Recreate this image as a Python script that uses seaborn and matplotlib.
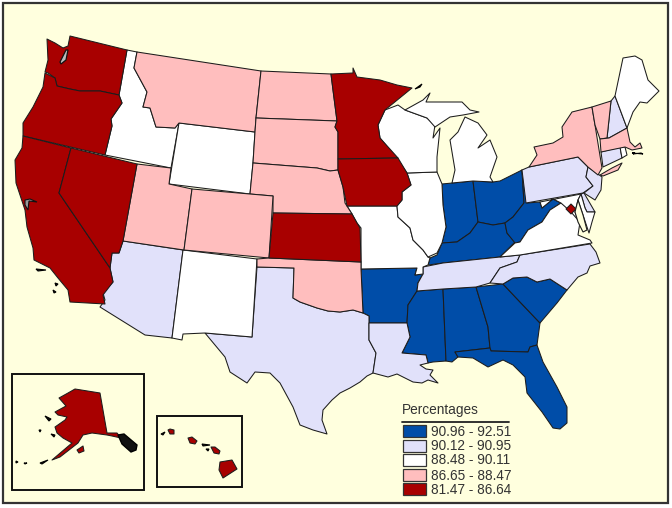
import matplotlib
matplotlib.use("Agg")
import matplotlib.pyplot as plt
from matplotlib.patches import Polygon, Rectangle
import seaborn as sns

sns.set_theme(style="white")
plt.rcParams['font.family'] = ['Liberation Sans', 'DejaVu Sans']

LEGEND_TITLE = "Percentages"
CLASS_LABELS = ["90.96 - 92.51", "90.12 - 90.95", "88.48 - 90.11", "86.65 - 88.47", "81.47 - 86.64"]
CLASS_COLORS = sns.color_palette(["#004DA8", "#E1E1FA", "#FFFFFF", "#FFBEBE", "#A80000"])
BG = "#FFFFDE"
EDGE = "#1c1c1c"

# state outlines (x, y in picture pixels)
WA = [(47,39),(55,43),(63,48),(68,46),(70,36),(127,50),(119,95),(100,91),(80,91),(70,89),(57,86),(55,78),(48,73),(45,72),(48,60)]
OR = [(45,73),(55,78),(57,86),(70,89),(80,91),(100,91),(119,95),(122,103),(111,119),(112,126),(105,155),(23,136),(23,123),(33,107),(43,87)]
CA = [(23,136),(71,148),(59,193),(110,268),(113,282),(103,295),(105,304),(70,302),(68,290),(58,278),(50,268),(34,260),(33,248),(27,227),(25,210),(16,183),(15,160),(22,148)]
NV = [(71,148),(137,164),(123,241),(119,253),(112,253),(110,268),(59,193)]
ID = [(127,50),(137,52),(134,68),(147,92),(143,107),(150,108),(156,127),(175,128),(179,123),(171,168),(105,155),(112,126),(111,119),(122,103),(119,95)]
MT = [(137,52),(261,71),(256,118),(255,132),(179,123),(175,128),(156,127),(150,108),(143,107),(147,92),(134,68)]
WY = [(179,123),(255,132),(253,163),(250,194),(169,184)]
ND = [(261,71),(331,74),(333,90),(337,121),(256,118)]
SD = [(256,118),(337,121),(335,127),(338,132),(338,170),(330,171),(317,168),(253,163),(255,132)]
NE = [(253,163),(317,168),(330,171),(338,170),(343,187),(345,203),(352,214),(273,213),(273,196),(250,194)]
KS = [(273,213),(352,214),(357,223),(360,228),(361,262),(269,258)]
CO = [(192,189),(273,196),(269,258),(184,250)]
UT = [(137,164),(171,168),(169,184),(192,189),(184,250),(123,241)]
AZ = [(123,241),(183,250),(172,338),(145,335),(100,307),(105,300),(103,293),(113,282),(110,268),(112,253),(119,253)]
NM = [(183,250),(257,259),(252,337),(205,333),(183,334),(182,340),(172,338)]
TX = [(257,267),(294,268),(293,298),(300,302),(317,308),(328,311),(340,312),(353,310),(363,313),(369,316),(369,340),(376,353),(373,373),(367,376),(360,382),(350,388),(340,393),(332,400),(323,410),(322,420),(327,434),(313,430),(300,425),(293,407),(280,383),(270,373),(255,372),(247,383),(230,372),(225,357),(205,333),(252,337)]
OK = [(257,259),(269,258),(361,262),(361,269),(363,313),(353,310),(340,312),(328,311),(317,308),(300,302),(293,298),(294,268),(257,267)]
AR = [(361,269),(417,268),(415,275),(423,274),(418,283),(417,291),(408,305),(407,323),(369,323),(369,316),(363,313)]
LA = [(369,323),(407,323),(410,337),(402,353),(426,355),(428,363),(420,365),(426,369),(433,370),(430,375),(438,383),(428,380),(422,383),(413,382),(405,378),(397,374),(388,377),(373,373),(376,353),(369,340)]
MS = [(417,291),(443,289),(446,361),(433,362),(428,363),(426,355),(402,353),(410,337),(407,323),(408,305)]
AL = [(443,289),(476,287),(488,327),(490,348),(455,352),(458,357),(452,362),(446,361)]
GA = [(476,287),(503,284),(520,302),(540,323),(537,345),(530,347),(528,352),(491,351),(490,348),(488,327)]
FL = [(455,352),(490,348),(491,351),(528,352),(530,347),(537,345),(543,362),(557,387),(567,407),(567,423),(560,429),(553,428),(542,412),(527,393),(525,377),(513,365),(503,360),(488,367),(473,358),(458,357)]
SC = [(503,284),(513,278),(527,277),(537,282),(550,279),(567,290),(557,303),(540,323),(520,302)]
NC = [(520,255),(590,244),(596,252),(600,263),(590,266),(587,273),(578,277),(567,290),(550,279),(537,282),(527,277),(513,278),(503,284),(490,283),(500,268),(517,262)]
TN = [(520,255),(517,262),(500,268),(490,283),(476,287),(443,289),(417,291),(418,283),(423,274),(423,267),(443,263),(500,257)]
KY = [(428,265),(430,258),(437,255),(442,243),(457,242),(470,233),(478,222),(493,225),(505,223),(507,233),(515,242),(500,257),(443,263)]
IN = [(442,184),(473,181),(478,222),(470,233),(457,242),(442,243),(446,227),(443,205)]
OH = [(473,181),(493,182),(500,181),(522,170),(524,203),(513,217),(505,223),(493,225),(478,222)]
WV = [(522,170),(527,203),(540,202),(542,208),(553,199),(561,203),(550,210),(542,222),(528,230),(520,242),(515,243),(507,233),(505,223),(513,217),(524,203)]
VA = [(500,257),(515,243),(520,242),(528,230),(542,222),(550,210),(561,203),(571,209),(580,222),(578,235),(590,240),(592,243),(520,255)]
MD = [(540,202),(581,194),(578,200),(575,212),(578,220),(571,212),(561,203),(553,199),(542,208)]
DELMARVA = [(581,194),(585,208),(587,212),(595,212),(592,222),(589,233),(583,215),(578,200)]
DE = [(581,194),(584,193),(595,212),(587,212),(585,208)]
DC = [(571,204),(576,209),(571,214),(566,209)]
PA = [(522,170),(529,167),(578,157),(588,167),(586,177),(593,186),(583,193),(526,203)]
NJ = [(588,167),(598,174),(602,177),(601,190),(595,200),(584,193),(593,186),(586,177)]
NY = [(529,167),(537,155),(534,147),(553,143),(563,137),(562,127),(572,112),(592,107),(595,125),(602,168),(598,175),(588,167),(578,157)]
LI = [(600,175),(612,168),(622,163),(618,170),(603,176)]
VT = [(592,107),(611,101),(607,138),(600,139),(595,125)]
NH = [(611,101),(615,96),(627,128),(609,138),(607,138)]
ME = [(615,96),(623,58),(635,56),(642,60),(648,80),(659,91),(654,96),(647,103),(640,102),(633,112),(627,128)]
MA = [(600,139),(609,138),(627,128),(630,142),(635,147),(640,143),(642,148),(632,150),(625,147),(601,152)]
CT = [(601,152),(620,147),(622,158),(603,167)]
RI = [(620,147),(625,147),(627,155),(622,158)]
MI_LOW = [(452,183),(455,170),(450,140),(458,132),(465,117),(478,123),(487,135),(478,148),(490,140),(497,157),(490,177),(493,182),(473,181)]
MI_UP = [(405,110),(423,100),(430,93),(426,102),(462,102),(470,110),(479,112),(463,115),(450,117),(435,127),(427,118)]
WI = [(385,110),(398,105),(405,110),(427,118),(435,125),(433,138),(440,128),(437,157),(437,172),(407,173),(398,160),(380,138),(378,125)]
MN = [(331,74),(353,73),(353,68),(357,77),(380,80),(397,85),(412,88),(385,110),(378,125),(380,138),(398,158),(338,159),(338,132),(335,127),(337,121),(333,90)]
IA = [(338,159),(398,158),(407,173),(411,185),(402,192),(402,200),(397,206),(347,206),(343,187),(338,170)]
IL = [(407,173),(437,172),(442,184),(443,205),(446,227),(442,243),(437,253),(428,257),(423,250),(413,240),(410,228),(398,217),(397,206),(402,200),(402,192),(411,185)]
MO = [(347,206),(397,206),(398,217),(410,228),(413,240),(423,250),(428,257),(430,258),(428,265),(423,267),(423,274),(415,275),(417,268),(361,269),(361,228),(357,223),(352,214)]
AK = [(75,389),(100,393),(107,433),(117,433),(121,438),(112,436),(107,435),(92,433),(83,435),(78,443),(60,457),(52,460),(72,443),(63,438),(57,433),(55,427),(65,420),(67,417),(58,415),(55,412),(66,406),(59,398),(68,393)]
AK_KODIAK = [(77,450),(83,446),(84,451),(79,453)]
HI_BIG = [(220,462),(232,460),(237,469),(223,478),(219,470)]
HI_MAUI = [(211,447),(215,447),(220,451),(219,454),(214,453)]
HI_OAHU = [(188,438),(192,437),(197,441),(195,444),(190,443)]
HI_KAUAI = [(168,430),(170,429),(174,430),(174,434),(170,434)]

BLUE_STATES = [IN, OH, KY, WV, AR, MS, AL, GA, FL, SC]
LAVENDER_STATES = [AZ, TX, LA, TN, NC, PA, NJ, DE, CT, NH]
WHITE_STATES = [ID, WY, NM, MO, IL, WI, MI_LOW, MI_UP, VA, MD, DELMARVA, ME, RI]
PINK_STATES = [MT, ND, SD, NE, UT, CO, OK, NY, LI, VT, MA]
RED_STATES = [WA, OR, CA, NV, KS, MN, IA, DC, AK, AK_KODIAK, HI_BIG, HI_MAUI, HI_OAHU, HI_KAUAI]
GROUPS = [BLUE_STATES, LAVENDER_STATES, WHITE_STATES, PINK_STATES, RED_STATES]

# dark slivers of coast and small islands
SF_BAY = [(25,200),(30,199),(37,202),(29,201),(28,210),(25,205)]
PUGET = [(60,62),(66,50),(68,50),(66,60),(61,64)]
AK_PANHANDLE = [(118,435),(124,434),(137,445),(136,450),(131,452),(122,444)]
AK_ISLES = [[(45,416),(51,419),(49,421)],[(39,430),(41,430),(40,432)],[(51,434),(55,435),(54,437)],[(16,461),(18,462),(16,463)],[(24,463),(27,463),(25,464)],[(40,463),(48,460),(42,464)]]
SOCAL_ISLES = [[(36,269),(46,270),(38,271)],[(55,283),(58,284),(56,286)],[(53,290),(56,292),(54,293)]]
ROYALE = [(415,89),(422,84),(420,87)]
NANTUCKET = [(632,153),(635,153),(633,154),(641,153),(643,154)]
HI_SMALL = [[(161,434),(165,432),(163,435)],[(202,444),(210,445),(203,446)],[(206,449),(209,449),(208,451)]]
BAY = [(578,200),(583,215),(587,230),(583,232),(578,222),(575,212)]

fig = plt.figure(figsize=(6.72, 5.08), dpi=100, facecolor="white")
ax = fig.add_axes([0, 0, 1, 1])
ax.set_xlim(0, 672)
ax.set_ylim(508, 0)
ax.axis("off")

ax.add_patch(Rectangle((2.5, 2.5), 665, 500, fc=BG, ec="#333333", lw=1.6))

for box in [(12, 374, 132, 116), (157, 416, 85, 71)]:
    ax.add_patch(Rectangle(box[:2], box[2], box[3], fc=BG, ec="#111111", lw=1.4))

for states, col in zip(GROUPS, CLASS_COLORS):
    for outline in states:
        ax.add_patch(Polygon(outline, closed=True, fc=col, ec=EDGE, lw=0.75, joinstyle="round"))

ax.add_patch(Polygon(BAY, closed=True, fc=BG, ec=EDGE, lw=0.8))
ax.add_patch(Polygon(SF_BAY, closed=True, fc="#999999", ec="#111111", lw=0.8))
ax.add_patch(Polygon(PUGET, closed=True, fc="#bbbbbb", ec="#111111", lw=0.9))
ax.add_patch(Polygon(AK_PANHANDLE, closed=True, fc="#111111", ec="#000000", lw=1.0))
for isle in AK_ISLES + SOCAL_ISLES + HI_SMALL + [ROYALE, NANTUCKET]:
    ax.add_patch(Polygon(isle, closed=True, fc="#111111", ec="#000000", lw=0.8))

ax.text(402, 410, LEGEND_TITLE, fontsize=9.8, color="#333333", ha="left", va="center")
ax.plot([402, 509], [422, 422], color="#222222", lw=1.3)
swatch_tops = [425, 440, 454, 469, 483]
for top, col, label in zip(swatch_tops, CLASS_COLORS, CLASS_LABELS):
    ax.add_patch(Rectangle((403, top), 23, 12, fc=col, ec="#333333", lw=0.9))
    ax.text(431, top + 6.5, label, fontsize=9.8, color="#333333", ha="left", va="center")

fig.savefig("out.png", dpi=100)
